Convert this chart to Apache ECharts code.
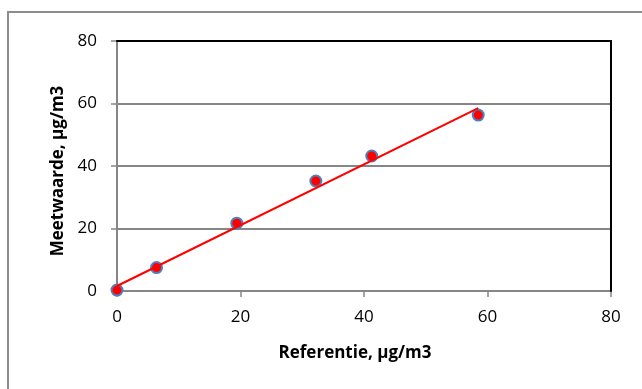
<!DOCTYPE html>
<html>
<head>
<meta charset="utf-8">
<script src="https://cdn.jsdelivr.net/npm/echarts@6/dist/echarts.min.js"></script>
<style>
  html, body { margin: 0; padding: 0; background: #fff; }
  #chart { width: 642px; height: 389px; }
</style>
</head>
<body>
<div id="chart"></div>
<script>
// Measured concentrations: reference vs. instrument reading
const referentie = [0, 6.4, 19.4, 32.2, 41.25, 58.5];
const meetwaarde = [0.3, 7.5, 21.7, 35.2, 43.2, 56.3];

// Linear trendline endpoints
const trendX = [0, 58.5];
const trendY = [1.6, 58.5];

const xTicks = [0, 20, 40, 60, 80];
const yTicks = [0, 20, 40, 60, 80];

const font = '"Open Sans", "Liberation Sans", sans-serif';
const grey = '#868686';

const chart = echarts.init(document.getElementById('chart'), null, { renderer: 'canvas' });

const valueAxisBase = (ticks) => ({
  type: 'value',
  min: ticks[0], max: ticks[ticks.length - 1], interval: 20
});

chart.setOption({
  animation: false,
  backgroundColor: '#ffffff',
  graphic: [{
    type: 'rect',
    shape: { x: 8, y: 12, width: 700, height: 500 },
    style: { fill: 'none', stroke: '#8c8c8c', lineWidth: 2 },
    silent: true,
    z: -10
  }],
  grid: {
    left: 117, right: 31, top: 41, bottom: 98,
    show: true, borderColor: '#000', borderWidth: 2, backgroundColor: '#fff'
  },
  xAxis: [
    Object.assign(valueAxisBase(xTicks), {
      position: 'bottom',
      name: 'Referentie, µg/m3',
      nameLocation: 'middle', nameGap: 54,
      nameTextStyle: { fontFamily: font, fontSize: 17, fontWeight: 'bold', color: '#000', padding: [0, 18, 0, 0] },
      axisLine: { show: true, onZero: false, lineStyle: { color: grey, width: 2 } },
      axisTick: { show: true, inside: false, length: 6, lineStyle: { color: grey, width: 1.5 } },
      axisLabel: { fontFamily: font, fontSize: 17, color: '#000', margin: 18 },
      splitLine: { show: false }
    }),
    // plain black frame along the top edge of the plot
    Object.assign(valueAxisBase(xTicks), {
      position: 'top',
      axisLine: { show: true, onZero: false, lineStyle: { color: '#000', width: 2 } },
      axisTick: { show: false },
      axisLabel: { show: false },
      splitLine: { show: false },
      z: 5
    })
  ],
  yAxis: [
    Object.assign(valueAxisBase(yTicks), {
      position: 'left',
      name: 'Meetwaarde, µg/m3',
      nameLocation: 'middle', nameGap: 50, nameRotate: 90,
      nameTextStyle: { fontFamily: font, fontSize: 17, fontWeight: 'bold', color: '#000', padding: [0, 10, 0, 0] },
      axisLine: { show: true, onZero: false, lineStyle: { color: grey, width: 2 } },
      axisTick: { show: true, inside: false, length: 6, lineStyle: { color: grey, width: 1.5 } },
      axisLabel: { fontFamily: font, fontSize: 17, color: '#000', margin: 20 },
      splitLine: { show: true, lineStyle: { color: grey, width: 2 } }
    }),
    Object.assign(valueAxisBase(yTicks), {
      position: 'right',
      axisLine: { show: true, onZero: false, lineStyle: { color: '#000', width: 2 } },
      axisTick: { show: false },
      axisLabel: { show: false },
      splitLine: { show: false },
      z: 5
    })
  ],
  series: [
    {
      name: 'Meetwaarde',
      type: 'scatter',
      data: referentie.map((x, i) => [x, meetwaarde[i]]),
      symbol: 'circle',
      symbolSize: 11,
      itemStyle: { color: '#ff0000', borderColor: '#4f81bd', borderWidth: 2, opacity: 1 },
      z: 3
    },
    {
      name: 'Trend',
      type: 'line',
      data: trendX.map((x, i) => [x, trendY[i]]),
      showSymbol: false,
      symbol: 'none',
      lineStyle: { color: '#ff0000', width: 2 },
      z: 4
    }
  ]
});
</script>
</body>
</html>
